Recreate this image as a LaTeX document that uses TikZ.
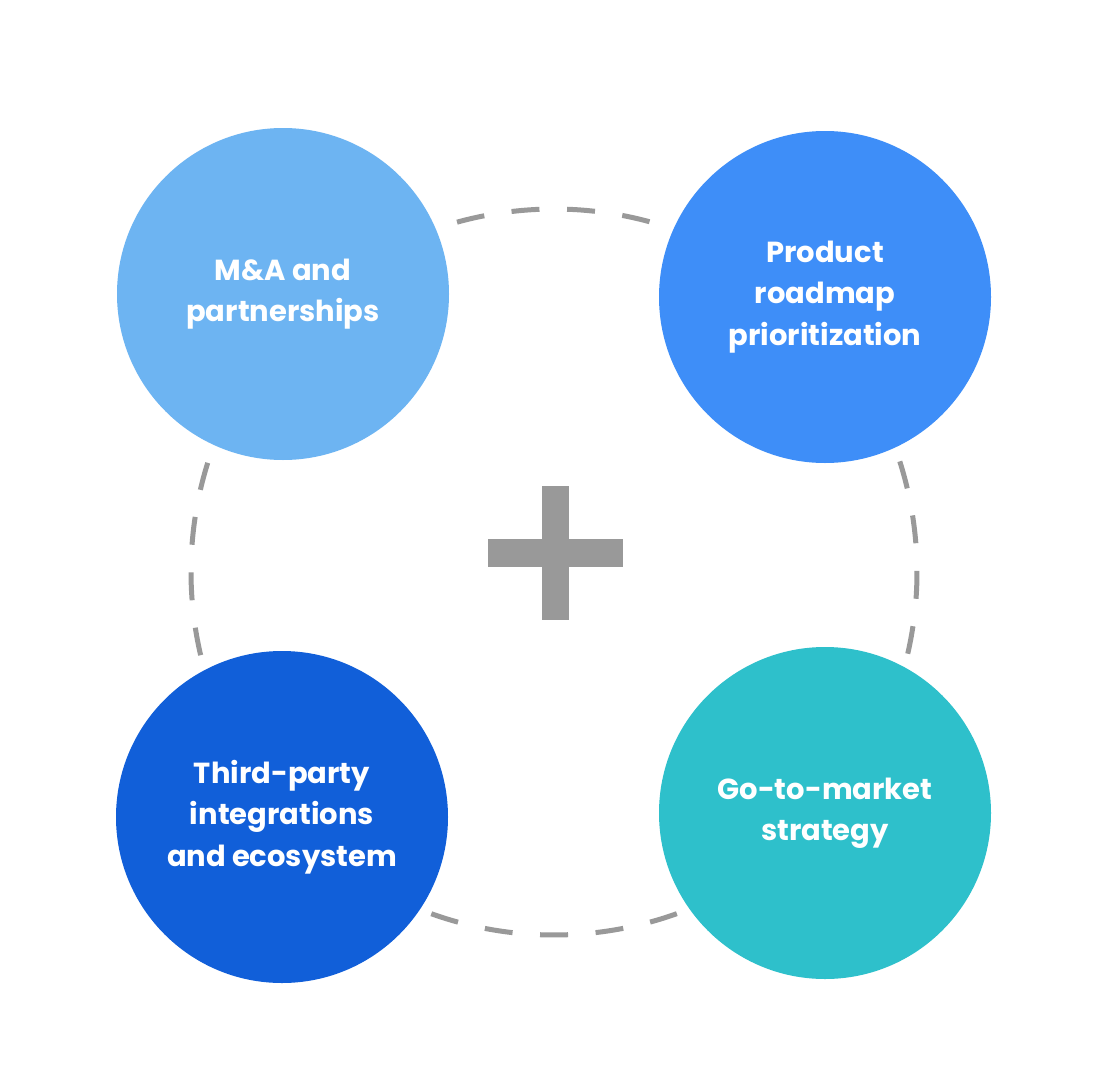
\documentclass[tikz,border=0pt]{standalone}
\usepackage{fontspec}
\setmainfont{Poppins}
\definecolor{cTL}{HTML}{6DB4F2}
\definecolor{cTR}{HTML}{3E8EF8}
\definecolor{cBL}{HTML}{115FD9}
\definecolor{cBR}{HTML}{2EC0CB}
\definecolor{gr}{HTML}{999999}
\begin{document}
\begin{tikzpicture}[x=1pt,y=-1pt,
  bubble/.style={circle,minimum size=332pt,inner sep=0pt,text=white,align=center,
    font=\fontsize{29}{41.5}\selectfont\bfseries},
  ring/.style={draw=gr,line width=5pt,dash pattern=on 28pt off 27.6pt,dash phase=41pt}]
\useasboundingbox (0,0) rectangle (1114,1092);
\fill[white] (0,0) rectangle (1114,1092);
\coordinate (c) at (554,572);
\draw[ring] (c) ++(41.6:363) arc[start angle=41.6, end angle=401.6, radius=363];
\fill[gr] (542,486) rectangle (569,620);
\fill[gr] (488,539) rectangle (623,567);
\node[bubble,fill=cTL] (tl) at (283,294) {M\&A and\\partnerships};
\node[bubble,fill=cTR] (tr) at (825,297) {Product\\roadmap\\prioritization};
\node[bubble,fill=cBL] (bl) at (282,817) {Third-party\\integrations\\and ecosystem};
\node[bubble,fill=cBR] (br) at (825,813) {Go-to-market\\strategy};
\end{tikzpicture}
\end{document}
